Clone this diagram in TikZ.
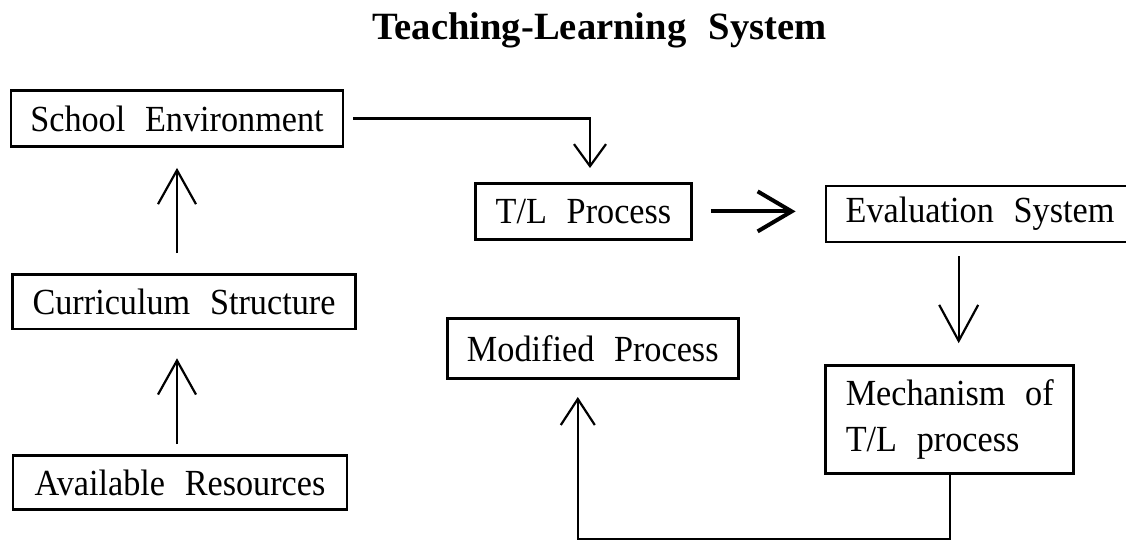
\documentclass[tikz,border=0pt]{standalone}
\usepackage{fontspec}
\setmainfont{Liberation Serif}[WordSpace=2.3]
\newfontfamily\boxfont{Liberation Serif}[FakeStretch=0.93,WordSpace=2.3]
\usetikzlibrary{arrows.meta,calc,positioning}

\begin{document}
\begin{tikzpicture}[x=0.5pt,y=-0.5pt,
    box/.style={draw, line width=1.4pt, inner sep=0pt, font=\boxfont\fontsize{18.4}{23.2}\selectfont},
    flow/.style={line width=1.1pt, -{Straight Barb[length=17pt,width=19pt]}}]
  \useasboundingbox (0,0) rectangle (1126,540);

  % Title
  \node[anchor=base, font=\fontsize{19.3}{23}\selectfont\bfseries] (title) at (599.5,39.6) {Teaching-Learning System};

  % Left column
  \node[box, minimum width=166pt, minimum height=28pt] (school) at (177,118.5) {School Environment};
  \node[box, minimum width=171.3pt, minimum height=27.2pt] (curric) at (184,301.7) {Curriculum Structure};
  \node[box, minimum width=167pt, minimum height=27pt] (avail) at (180,482.6) {Available Resources};

  % Right part
  \node[box, minimum width=108pt, minimum height=28pt] (tlproc) at (583.5,211.4) {T/L Process};
  \node[box, minimum width=154pt, minimum height=28pt] (evalsys) at (980,214) {Evaluation System};
  \node[box, minimum width=145.5pt, minimum height=30pt] (modproc) at (592.8,348.6) {Modified Process};
  \node[box, minimum width=124pt, minimum height=54pt, align=left] (mech) at (949.7,419.6) {Mechanism of\\T/L process};

  % Arrows
  \draw[flow, shorten <=10pt, shorten >=10pt] (school.south |- curric.north) -- (school.south);
  \draw[flow, shorten <=5pt, shorten >=14pt] (school.south |- avail.north) -- (school.south |- curric.south);
  \draw[flow, shorten <=4.5pt, shorten >=7pt, -{Straight Barb[length=11pt,width=16pt]}] (school.east) -| ([xshift=3.25pt]tlproc.north);
  \draw[flow, line width=2pt, shorten <=9pt, shorten >=14.5pt, -{Straight Barb[length=17pt,width=20pt]}] (tlproc.east) -- (tlproc.east -| evalsys.west);
  \coordinate (mtop) at ([xshift=4.5pt]mech.north);
  \draw[flow, shorten <=6.5pt, shorten >=10.5pt, -{Straight Barb[length=18pt,width=19.5pt]}] (evalsys.south -| mtop) -- (mtop);

  % Feedback
  \coordinate (fb) at ([yshift=-32pt]mech.south);
  \draw[flow, shorten >=8.5pt, -{Straight Barb[length=13pt,width=17pt]}] (mech.south) -- (fb) -| ([xshift=-7.5pt]modproc.south);
\end{tikzpicture}
\end{document}
